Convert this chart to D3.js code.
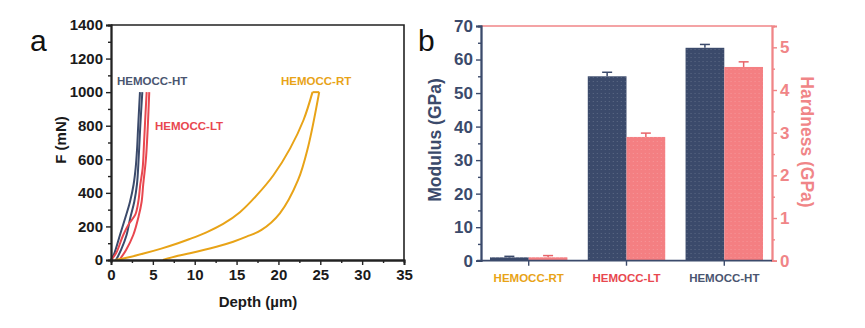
<!DOCTYPE html>
<html>
<head>
<meta charset="utf-8">
<script src="https://cdn.jsdelivr.net/npm/d3@7"></script>
<style>
  body { margin: 0; background: #fff; }
  svg { font-family: "Liberation Sans", Arial, sans-serif; font-weight: bold; }
</style>
</head>
<body>
<div class="chart"></div>
<script>
// load-depth curves (depth in µm, force in mN)
var htLoad = [[0,0],[0.4,40],[1.07,149],[1.7,250],[2.27,347],[2.7,450],[2.95,550],[3.1,650],[3.25,800],[3.46,1000]];
var htUnload = [[3.74,1000],[3.5,800],[3.3,600],[3.1,450],[2.78,347],[2.3,250],[1.86,149],[1.2,60],[0.6,0]];
var ltLoad = [[0,0],[0.6,40],[1.46,149],[2.2,220],[2.9,270],[3.26,347],[3.5,450],[3.78,546],[3.95,700],[4.1,850],[4.26,1000]];
var ltUnload = [[4.57,1000],[4.4,800],[4.2,620],[4.06,546],[3.85,450],[3.66,347],[3.3,260],[2.66,149],[1.8,60],[1.0,0]];
var rtLoad = [[0.5,0],[2,15],[4,40],[6,68],[8,100],[9.4,125],[11.4,165],[13.4,215],[15.4,285],[17.4,385],[19.4,505],[21.4,665],[23,834],[24.07,1000]];
var rtHold = [[24.07,1000],[24.87,1000]];
var rtUnload = [[24.87,1000],[23.55,675],[22.35,477],[20.17,278],[17.98,179],[16.19,139],[14.6,109],[12.6,79],[9.43,40],[8,25],[6.2,0]];

var depthTicks = [0,5,10,15,20,25,30,35];
var forceTicks = [0,200,400,600,800,1000,1200,1400];

// mechanical properties
var samples = ["HEMOCC-RT","HEMOCC-LT","HEMOCC-HT"];
var modulus = [1.0, 55.0, 63.5];
var modulusErr = [0.3, 1.2, 1.0];
var hardness = [0.08, 2.90, 4.54];
var hardnessErr = [0.04, 0.09, 0.12];
var modulusTicks = [0,10,20,30,40,50,60,70];
var hardnessTicks = [0,1,2,3,4,5];

var navy = "#3b4a6b", red = "#e8474f", orange = "#e8a317", pink = "#f47f82", pinkAxis = "#f08587";
var sampleColors = [orange, red, "#4a5570"];

var svg = d3.select(".chart").append("svg")
    .attr("width", 865).attr("height", 328);

// dotted fill texture for the bars
var defs = svg.append("defs");
[["navyDots", navy], ["pinkDots", pink]].forEach(function (p) {
  var pat = defs.append("pattern").attr("id", p[0])
      .attr("patternUnits", "userSpaceOnUse").attr("width", 4).attr("height", 4);
  pat.append("rect").attr("width", 4).attr("height", 4).attr("fill", p[1]);
  pat.append("rect").attr("x", 1).attr("y", 1).attr("width", 1).attr("height", 1)
      .attr("fill", "#fff").attr("opacity", 0.18);
});

// ---------- panel a ----------
var x = d3.scaleLinear().domain([0, 35]).range([111, 404]);
var y = d3.scaleLinear().domain([0, 1400]).range([260, 25]);

var a = svg.append("g");

var lineY = d3.line().x(function (d) { return x(d[0]); }).y(function (d) { return y(d[1]); })
    .curve(d3.curveCatmullRom.alpha(0.5));

[[htLoad, navy], [htUnload, navy], [ltLoad, red], [ltUnload, red],
 [rtLoad, orange], [rtHold, orange], [rtUnload, orange]].forEach(function (c) {
  a.append("path").datum(c[0]).attr("d", lineY)
      .attr("fill", "none").attr("stroke", c[1]).attr("stroke-width", 2)
      .attr("stroke-linejoin", "round");
});

// frame
a.append("path")
    .attr("d", "M" + x(0) + "," + y(1400) + "H" + x(35) + "V" + y(0))
    .attr("fill", "none").attr("stroke", "#222").attr("stroke-width", 1.6);

var xAxA = a.append("g").attr("transform", "translate(0," + y(0) + ")")
    .call(d3.axisBottom(x).tickValues(depthTicks).tickSize(5).tickPadding(4).tickFormat(d3.format("d")));
xAxA.append("g").call(d3.axisBottom(x).tickValues(d3.range(2.5, 35, 5)).tickSize(3).tickFormat(""));
var yAxA = a.append("g").attr("transform", "translate(" + x(0) + ",0)")
    .call(d3.axisLeft(y).tickValues(forceTicks).tickSize(5).tickPadding(3).tickFormat(d3.format("d")));
yAxA.append("g").call(d3.axisLeft(y).tickValues(d3.range(100, 1400, 200)).tickSize(3).tickFormat(""));

[xAxA, yAxA].forEach(function (g) {
  g.selectAll(".domain").attr("stroke", "#222").attr("stroke-width", 1.8);
  g.selectAll("line").attr("stroke", "#222").attr("stroke-width", 1.4);
  g.selectAll("text").attr("fill", "#1a1a1a").style("font-size", "15px").style("font-weight", "bold");
});

a.append("text").attr("x", 258).attr("y", 307).attr("text-anchor", "middle")
    .style("font-size", "15px").attr("fill", "#1a1a1a").text("Depth (µm)");
a.append("text").attr("transform", "translate(66,140) rotate(-90)").attr("text-anchor", "middle")
    .style("font-size", "15px").attr("fill", "#1a1a1a").text("F (mN)");
a.append("text").attr("x", 30).attr("y", 51).style("font-size", "30px").style("font-weight", "normal")
    .attr("fill", "#111").text("a");

a.append("text").attr("x", 117).attr("y", 85).style("font-size", "11.5px").attr("fill", "#4a5570").text("HEMOCC-HT");
a.append("text").attr("x", 155).attr("y", 130).style("font-size", "11.5px").attr("fill", red).text("HEMOCC-LT");
a.append("text").attr("x", 281).attr("y", 85).style("font-size", "11.5px").attr("fill", orange).text("HEMOCC-RT");

// ---------- panel b ----------
var xb = d3.scaleBand().domain(samples).range([481, 772]).paddingInner(0.208).paddingOuter(0.092);
var sub = d3.scaleBand().domain(["m", "h"]).range([0, xb.bandwidth()]);
var ym = d3.scaleLinear().domain([0, 70]).range([260.7, 26]);
var yh = d3.scaleLinear().domain([0, 5.5]).range([260.7, 26]);

var b = svg.append("g");

var groups = b.selectAll(".grp").data(samples).enter().append("g")
    .attr("transform", function (d) { return "translate(" + xb(d) + ",0)"; });

groups.append("rect")
    .attr("x", sub("m")).attr("width", sub.bandwidth())
    .attr("y", function (d, i) { return ym(modulus[i]); })
    .attr("height", function (d, i) { return ym(0) - ym(modulus[i]); })
    .attr("fill", "url(#navyDots)");
groups.append("rect")
    .attr("x", sub("h")).attr("width", sub.bandwidth())
    .attr("y", function (d, i) { return yh(hardness[i]); })
    .attr("height", function (d, i) { return yh(0) - yh(hardness[i]); })
    .attr("fill", "url(#pinkDots)");

// error bars (upper half only)
function errBar(g, cx, top, base, color) {
  g.append("line").attr("x1", cx).attr("x2", cx).attr("y1", top).attr("y2", base)
      .attr("stroke", color).attr("stroke-width", 1.5);
  g.append("line").attr("x1", cx - 5).attr("x2", cx + 5).attr("y1", top).attr("y2", top)
      .attr("stroke", color).attr("stroke-width", 1.5);
}
groups.each(function (d, i) {
  var g = d3.select(this);
  errBar(g, sub("m") + sub.bandwidth() / 2, ym(modulus[i] + modulusErr[i]), ym(modulus[i]), navy);
  errBar(g, sub("h") + sub.bandwidth() / 2, yh(hardness[i] + hardnessErr[i]), yh(hardness[i]), "#e8646a");
});

// top border
b.append("line").attr("x1", 481).attr("x2", 772).attr("y1", ym(70)).attr("y2", ym(70))
    .attr("stroke", pinkAxis).attr("stroke-width", 1.6);

var yAxL = b.append("g").attr("transform", "translate(481,0)")
    .call(d3.axisLeft(ym).tickValues(modulusTicks).tickSize(5).tickPadding(3));
yAxL.append("g").call(d3.axisLeft(ym).tickValues(d3.range(5, 70, 10)).tickSize(3).tickFormat(""));
var yAxR = b.append("g").attr("transform", "translate(772,0)")
    .call(d3.axisRight(yh).tickValues(hardnessTicks).tickSize(5).tickPadding(3).tickFormat(d3.format("d")));
yAxR.append("g").call(d3.axisRight(yh).tickValues(d3.range(0.5, 5.5, 1)).tickSize(3).tickFormat(""));
var xAxB = b.append("g").attr("transform", "translate(0," + ym(0) + ")")
    .call(d3.axisBottom(xb).tickSize(5).tickPadding(8));

[[yAxL, navy], [yAxR, pinkAxis], [xAxB, navy]].forEach(function (p) {
  p[0].selectAll(".domain").attr("stroke", p[1]).attr("stroke-width", 1.8);
  p[0].selectAll("line").attr("stroke", p[1]).attr("stroke-width", 1.4);
  p[0].selectAll("text").attr("fill", p[1]).style("font-size", "17px").style("font-weight", "bold");
});
xAxB.select(".domain").attr("d", "M477,0H772");
xAxB.selectAll("text").style("font-size", "11.5px")
    .attr("fill", function (d, i) { return sampleColors[i]; });

b.append("text").attr("transform", "translate(441,140) rotate(-90)").attr("text-anchor", "middle")
    .style("font-size", "17.5px").attr("fill", navy).text("Modulus (GPa)");
b.append("text").attr("transform", "translate(801,142) rotate(90)").attr("text-anchor", "middle")
    .style("font-size", "17.5px").attr("fill", pinkAxis).text("Hardness (GPa)");
b.append("text").attr("x", 418).attr("y", 51).style("font-size", "30px").style("font-weight", "normal")
    .attr("fill", "#111").text("b");
</script>
</body>
</html>
